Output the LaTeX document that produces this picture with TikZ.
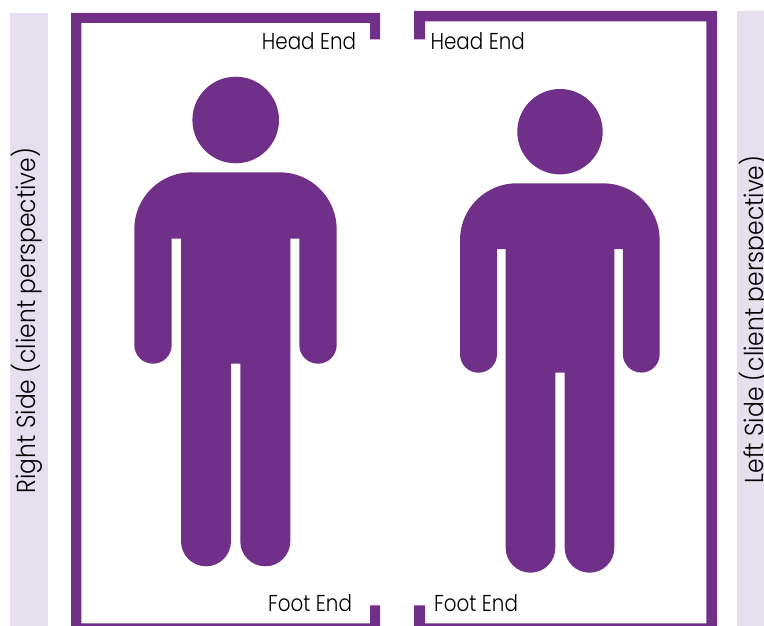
\documentclass[tikz,border=0pt]{standalone}
\usepackage{fontspec}
\setmainfont{Poppins Light}
\definecolor{pur}{HTML}{70308A}
\definecolor{band}{HTML}{E6DFEE}
\tikzset{
  bandbox/.style={fill=band,draw=none},
  purple fill/.style={fill=pur,draw=none},
  endlabel/.style={inner sep=0pt,text=black,font=\fontsize{23}{23}\selectfont,anchor=base,xscale=.865},
  sidelabel/.style={inner sep=0pt,text=black,font=\fontsize{26}{26}\selectfont,anchor=base,rotate=90,xscale=.9},
}
\begin{document}
\begin{tikzpicture}[x=1pt,y=-1pt]
\useasboundingbox (0,0) rectangle (764,626);
\fill[white] (0,0) rectangle (764,626);
\fill[bandbox] (10,13) rectangle (48,626);
\fill[bandbox] (737,11) rectangle (764,626);
% frames
\fill[purple fill] (380,13) -- (71,13) -- (71,626) -- (380,626) -- (380,605.3) -- (370,605.3) -- (370,623.4) -- (81.3,623.4) -- (81.3,23) -- (370,23) -- (370,39.5) -- (380,39.5) -- cycle;
\fill[purple fill] (414,39.5) -- (414,11) -- (717,11) -- (717,626) -- (414,626) -- (414,605.3) -- (425,605.3) -- (425,623.4) -- (706.3,623.4) -- (706.3,21.5) -- (425,21.5) -- (425,39.5) -- cycle;
% left person
\fill[purple fill] (235.7,120) circle (43.3);
\fill[purple fill] (134.3,229.3) arc[start angle=180,end angle=90,x radius=57,y radius=-57]
 -- (279.7,172.3) arc[start angle=90,end angle=0,x radius=57,y radius=-57]
 -- (336.7,345) arc[start angle=0,end angle=-180,radius=18.7,y radius=-18.7]
 -- (299.3,238.7) -- (290.3,238.7) -- (290.3,541.3) arc[start angle=0,end angle=-180,x radius=25,y radius=-25]
 -- (240.3,363.7) -- (231,363.7) -- (231,541.3) arc[start angle=0,end angle=-180,x radius=25,y radius=-25]
 -- (181,238.7) -- (171.7,238.7) -- (171.7,345) arc[start angle=0,end angle=-180,x radius=18.7,y radius=-18.7]
 -- cycle;
% right person
\fill[purple fill] (560,131.7) circle (42.7);
\fill[purple fill] (460,240) arc[start angle=180,end angle=90,x radius=56.7,y radius=-56.7]
 -- (603,183.3) arc[start angle=90,end angle=0,x radius=56.7,y radius=-56.7]
 -- (659.7,354.2) arc[start angle=0,end angle=-180,x radius=18.4,y radius=-18.4]
 -- (622.9,249) -- (614.3,249) -- (614.3,547.9) arc[start angle=0,end angle=-180,x radius=24.8,y radius=-24.8]
 -- (564.7,372.7) -- (555.3,372.7) -- (555.3,547.9) arc[start angle=0,end angle=-180,x radius=24.8,y radius=-24.8]
 -- (505.7,249) -- (497,249) -- (497,354.2) arc[start angle=0,end angle=-180,x radius=18.5,y radius=-18.5]
 -- cycle;
% labels
\node[endlabel] (hl) at (309,50) {Head End};
\node[endlabel] (hr) at (477.7,50) {Head End};
\node[endlabel] (fl) at (310,611) {Foot End};
\node[endlabel] (fr) at (476,611) {Foot End};
\node[sidelabel] (sl) at (35.5,320.5) {Right Side (client perspective)};
\node[sidelabel] (sr) at (763,319.5) {Left Side (client perspective)};
\end{tikzpicture}
\end{document}
